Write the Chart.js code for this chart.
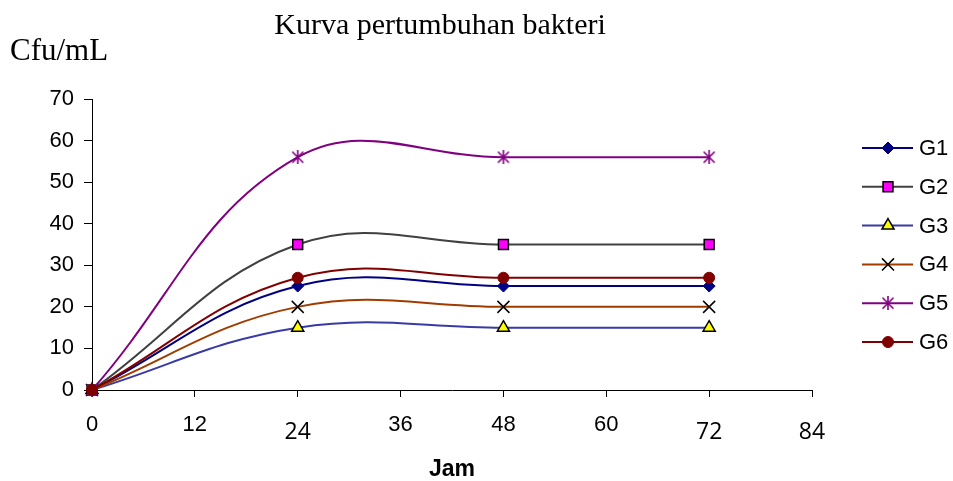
<!DOCTYPE html>
<html>
<head>
<meta charset="utf-8">
<title>Kurva pertumbuhan bakteri</title>
<script src="https://cdn.jsdelivr.net/npm/chart.js@4.4.1/dist/chart.umd.min.js"></script>
<style>
  html, body { margin: 0; padding: 0; background: #fff; }
  #wrap { width: 953px; height: 481px; }
</style>
</head>
<body>
<div id="wrap"><canvas id="growth-chart" width="953" height="481"></canvas></div>
<script>
// data
const hours = [0, 24, 48, 72];
const xTickValues = [0, 12, 24, 36, 48, 60, 72, 84];
const bigXTicks = [24, 72, 84];   // these labels are set in a different font in the original
const yTickValues = [0, 10, 20, 30, 40, 50, 60, 70];
const seriesNames = ['G1', 'G2', 'G3', 'G4', 'G5', 'G6'];

const g1 = [0, 25, 25, 25];
const g2 = [0, 35, 35, 35];
const g3 = [0, 15, 15, 15];
const g4 = [0, 20, 20, 20];
const g5 = [0, 56, 56, 56];
const g6 = [0, 27, 27, 27];

const titleText = 'Kurva pertumbuhan bakteri';
const yUnitText = 'Cfu/mL';
const xTitleText = 'Jam';

// asterisk marker like Excel's star (vertical bar + X)
function makeAsterisk(color) {
    const c = document.createElement('canvas');
    c.width = 14;
    c.height = 14;
    const g = c.getContext('2d');
    g.strokeStyle = color;
    g.lineWidth = 1.6;
    g.beginPath();
    g.moveTo(7, 0); g.lineTo(7, 14);
    g.moveTo(1.5, 1.5); g.lineTo(12.5, 12.5);
    g.moveTo(12.5, 1.5); g.lineTo(1.5, 12.5);
    g.stroke();
    return c;
}

const styles = [
    { line: '#000080', style: 'rectRot', radius: 6, fill: '#000080', border: '#000080', bw: 1 },
    { line: '#404040', style: 'rect', radius: 7, fill: '#ff00ff', border: '#000000', bw: 1.5 },
    { line: '#3a3aa6', style: 'triangle', radius: 7, fill: '#ffff00', border: '#000000', bw: 1.5 },
    { line: '#a03c00', style: 'crossRot', radius: 8.5, fill: '#000000', border: '#000000', bw: 1.5 },
    { line: '#800080', style: makeAsterisk('#800080'), radius: 7, fill: '#800080', border: '#800080', bw: 1 },
    { line: '#800000', style: 'circle', radius: 5.5, fill: '#800000', border: '#800000', bw: 1 }
];

const seriesValues = [g1, g2, g3, g4, g5, g6];

const datasets = seriesNames.map((name, i) => ({
    label: name,
    data: hours.map((h, j) => ({ x: h, y: seriesValues[i][j] })),
    borderColor: styles[i].line,
    borderWidth: 2,
    tension: 0.4,
    pointStyle: styles[i].style,
    pointRadius: styles[i].radius,
    pointBackgroundColor: styles[i].fill,
    pointBorderColor: styles[i].border,
    pointBorderWidth: styles[i].bw,
    clip: false,
    order: seriesNames.length - i
}));

// titles and legend drawn on the canvas
const decorations = {
    id: 'decorations',
    afterDraw(chart) {
        const ctx = chart.ctx;
        ctx.save();
        ctx.fillStyle = '#000';

        ctx.font = '30px "Liberation Serif", "Times New Roman", serif';
        ctx.textAlign = 'center';
        ctx.textBaseline = 'alphabetic';
        ctx.fillText(titleText, 440, 34);

        ctx.font = '31px "Liberation Serif", "Times New Roman", serif';
        ctx.textAlign = 'left';
        ctx.fillText(yUnitText, 10, 60);

        ctx.font = 'bold 23px "Liberation Sans", Arial, sans-serif';
        ctx.textAlign = 'center';
        ctx.fillText(xTitleText, 452, 476);

        // legend
        const rowTop = 148;
        const rowGap = 38.8;
        chart.data.datasets.forEach((ds, i) => {
            const y = rowTop + i * rowGap;
            ctx.strokeStyle = ds.borderColor;
            ctx.lineWidth = 2;
            ctx.beginPath();
            ctx.moveTo(862, y);
            ctx.lineTo(913, y);
            ctx.stroke();

            ctx.fillStyle = ds.pointBackgroundColor;
            ctx.strokeStyle = ds.pointBorderColor;
            ctx.lineWidth = ds.pointBorderWidth;
            Chart.helpers.drawPoint(ctx, {
                pointStyle: ds.pointStyle,
                radius: ds.pointRadius,
                borderWidth: ds.pointBorderWidth,
                rotation: 0
            }, 888, y);

            ctx.fillStyle = '#000';
            ctx.font = '22px "Liberation Sans", Arial, sans-serif';
            ctx.textAlign = 'left';
            ctx.textBaseline = 'middle';
            ctx.fillText(ds.label, 919, y + 1);
        });
        ctx.restore();
    }
};

const ctx = document.getElementById('growth-chart').getContext('2d');

new Chart(ctx, {
    type: 'line',
    data: { datasets },
    options: {
        responsive: false,
        animation: false,
        devicePixelRatio: 1,
        layout: { padding: { top: 99, right: 141, left: 0, bottom: 0 } },
        plugins: {
            legend: { display: false },
            title: { display: false },
            tooltip: { enabled: false }
        },
        scales: {
            x: {
                type: 'linear',
                min: 0,
                max: 84,
                afterFit: scale => { scale.height = 91; },
                afterBuildTicks: scale => { scale.ticks = xTickValues.map(v => ({ value: v })); },
                grid: { display: true, drawOnChartArea: false, drawTicks: true, tickLength: 7, color: '#000' },
                border: { display: true, color: '#000', width: 1 },
                ticks: {
                    color: '#000',
                    padding: 15,
                    maxRotation: 0,
                    autoSkip: false,
                    font: c => bigXTicks.includes(c.tick && c.tick.value)
                        ? { family: '"Open Sans", sans-serif', size: 23, lineHeight: '40px' }
                        : { family: '"Liberation Sans", Arial, sans-serif', size: 22 }
                }
            },
            y: {
                type: 'linear',
                min: 0,
                max: 70,
                afterFit: scale => { scale.width = 92; },
                afterBuildTicks: scale => { scale.ticks = yTickValues.map(v => ({ value: v })); },
                grid: { display: true, drawOnChartArea: false, drawTicks: true, tickLength: 8, color: '#000' },
                border: { display: true, color: '#000', width: 1 },
                ticks: {
                    color: '#000',
                    padding: 10,
                    font: { family: '"Liberation Sans", Arial, sans-serif', size: 22 }
                }
            }
        }
    },
    plugins: [decorations]
});
</script>
</body>
</html>
